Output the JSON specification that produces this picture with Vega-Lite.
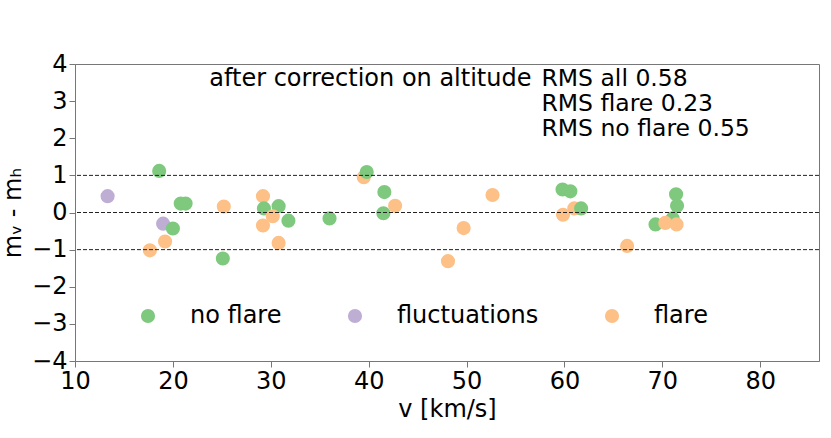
{
  "$schema": "https://vega.github.io/schema/vega-lite/v6.json",
  "autosize": "none",
  "width": 744,
  "height": 297,
  "padding": {"left": 75, "top": 64, "right": 12, "bottom": 77},
  "background": "white",
  "config": {
    "font": "DejaVu Sans",
    "view": {"stroke": "#777", "strokeWidth": 1},
    "axis": {"grid": false, "domainColor": "#777", "tickColor": "#777", "labelFont": "DejaVu Sans", "titleFont": "DejaVu Sans", "labelFontSize": 24, "titleFontSize": 24, "labelColor": "black", "titleColor": "black", "titleFontWeight": "normal", "tickSize": 6, "labelOverlap": false}
  },
  "datasets": {
    "pts": [
      {"v": 13.33, "dm": 0.44, "type": "fluctuations"},
      {"v": 19.0, "dm": -0.30, "type": "fluctuations"},
      {"v": 39.5, "dm": 0.95, "type": "flare"},
      {"v": 61.0, "dm": 0.11, "type": "flare"},
      {"v": 59.85, "dm": -0.06, "type": "flare"},
      {"v": 29.2, "dm": 0.44, "type": "flare"},
      {"v": 18.6, "dm": 1.12, "type": "no flare"},
      {"v": 20.0, "dm": -0.43, "type": "no flare"},
      {"v": 20.8, "dm": 0.24, "type": "no flare"},
      {"v": 21.3, "dm": 0.24, "type": "no flare"},
      {"v": 25.1, "dm": -1.24, "type": "no flare"},
      {"v": 29.3, "dm": 0.11, "type": "no flare"},
      {"v": 30.8, "dm": 0.17, "type": "no flare"},
      {"v": 31.8, "dm": -0.22, "type": "no flare"},
      {"v": 36.0, "dm": -0.16, "type": "no flare"},
      {"v": 39.8, "dm": 1.09, "type": "no flare"},
      {"v": 41.6, "dm": 0.55, "type": "no flare"},
      {"v": 41.5, "dm": -0.02, "type": "no flare"},
      {"v": 59.8, "dm": 0.62, "type": "no flare"},
      {"v": 60.6, "dm": 0.57, "type": "no flare"},
      {"v": 61.7, "dm": 0.11, "type": "no flare"},
      {"v": 69.3, "dm": -0.32, "type": "no flare"},
      {"v": 71.05, "dm": -0.16, "type": "no flare"},
      {"v": 71.4, "dm": 0.49, "type": "no flare"},
      {"v": 71.5, "dm": 0.18, "type": "no flare"},
      {"v": 17.65, "dm": -1.02, "type": "flare"},
      {"v": 19.2, "dm": -0.78, "type": "flare"},
      {"v": 25.2, "dm": 0.16, "type": "flare"},
      {"v": 29.2, "dm": -0.35, "type": "flare"},
      {"v": 30.2, "dm": -0.10, "type": "flare"},
      {"v": 30.8, "dm": -0.82, "type": "flare"},
      {"v": 42.7, "dm": 0.18, "type": "flare"},
      {"v": 48.1, "dm": -1.31, "type": "flare"},
      {"v": 49.7, "dm": -0.42, "type": "flare"},
      {"v": 52.65, "dm": 0.47, "type": "flare"},
      {"v": 66.4, "dm": -0.90, "type": "flare"},
      {"v": 70.3, "dm": -0.28, "type": "flare"},
      {"v": 71.45, "dm": -0.32, "type": "flare"}
    ],
    "lines": [{"y": 1}, {"y": 0}, {"y": -1}],
    "note1": [{"v": 56.63, "dm": 3.415, "label": "after correction on altitude"}],
    "note2": [
      {"v": 57.65, "dm": 3.415, "label": "RMS all 0.58"},
      {"v": 57.65, "dm": 2.742, "label": "RMS flare 0.23"},
      {"v": 57.65, "dm": 2.069, "label": "RMS no flare 0.55"}
    ]
  },
  "resolve": {"axis": {"y": "shared", "x": "shared"}},
  "layer": [
    {
      "data": {"name": "pts"},
      "mark": {"type": "point", "shape": "circle", "filled": true, "opacity": 1, "size": 200},
      "encoding": {
        "x": {"field": "v", "type": "quantitative", "scale": {"domain": [10, 86], "nice": false, "zero": false},
              "axis": {"values": [10, 20, 30, 40, 50, 60, 70, 80], "title": "v [km/s]", "labelPadding": 2, "titlePadding": 4, "labelFlush": false, "labelOverlap": false}},
        "y": {"field": "dm", "type": "quantitative", "scale": {"domain": [-4, 4], "nice": false, "zero": false},
              "axis": {"values": [-4, -3, -2, -1, 0, 1, 2, 3, 4], "tickCount": 9, "title": "mᵥ - mₕ", "labelPadding": 2, "titlePadding": 6, "labelFlush": false, "labelOverlap": false, "labelBound": false}},
        "color": {"field": "type", "type": "nominal",
                  "scale": {"domain": ["no flare", "fluctuations", "flare"], "range": ["#7fc97f", "#beaed4", "#fdc086"]},
                  "legend": {"title": null, "orient": "none", "direction": "horizontal", "legendX": 61, "legendY": 240,
                             "symbolType": "circle", "symbolSize": 200, "symbolOpacity": 1, "labelFontSize": 24, "labelFont": "DejaVu Sans",
                             "labelColor": "black", "labelOffset": 30, "columnPadding": 61, "padding": 0, "symbolStrokeWidth": 0}}
      }
    },
    {
      "data": {"name": "lines"},
      "mark": {"type": "rule", "strokeDash": [4, 2], "strokeWidth": 1, "color": "#222"},
      "encoding": {
        "y": {"field": "y", "type": "quantitative",
              "axis": {"values": [-4, -3, -2, -1, 0, 1, 2, 3, 4], "tickCount": 9, "title": "mᵥ - mₕ", "labelPadding": 2, "titlePadding": 6, "labelFlush": false, "labelOverlap": false, "labelBound": false}}
      }
    },
    {
      "data": {"name": "note1"},
      "mark": {"type": "text", "align": "right", "baseline": "alphabetic", "fontSize": 24, "font": "DejaVu Sans", "color": "black"},
      "encoding": {
        "x": {"field": "v", "type": "quantitative"},
        "y": {"field": "dm", "type": "quantitative"},
        "text": {"field": "label"}
      }
    },
    {
      "data": {"name": "note2"},
      "mark": {"type": "text", "align": "left", "baseline": "alphabetic", "fontSize": 23.5, "font": "DejaVu Sans", "color": "black"},
      "encoding": {
        "x": {"field": "v", "type": "quantitative"},
        "y": {"field": "dm", "type": "quantitative"},
        "text": {"field": "label"}
      }
    }
  ]
}
